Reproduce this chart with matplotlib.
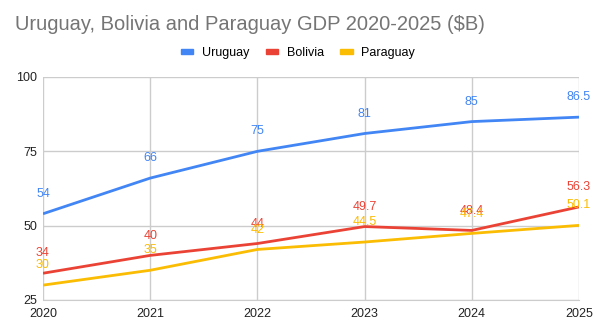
import matplotlib.pyplot as plt

years = [2020, 2021, 2022, 2023, 2024, 2025]
uruguay = [54, 66, 75, 81, 85, 86.5]
bolivia = [34, 40, 44, 49.7, 48.4, 56.3]
paraguay = [30, 35, 42, 44.5, 47.4, 50.1]

series = [
    ('Uruguay', uruguay, '#4285F4'),
    ('Bolivia', bolivia, '#EA4335'),
    ('Paraguay', paraguay, '#FBBC04'),
]

plt.rcParams['font.family'] = ['Liberation Sans', 'DejaVu Sans']

fig = plt.figure(figsize=(5.96, 3.31), dpi=100)
ax = fig.add_axes([43 / 596, 31 / 331, 536 / 596, 223 / 331])

for name, vals, color in series:
    ax.plot(years, vals, color=color, lw=2, label=name, solid_capstyle='butt')
    for x, y in zip(years, vals):
        ax.annotate(f'{y:g}', (x, y), xytext=(0, 10), textcoords='offset points',
                    ha='center', va='bottom', color=color, fontsize=9)

ax.set_xlim(2020, 2025)
ax.set_ylim(25, 100)
ax.set_xticks(years)
ax.set_yticks([25, 50, 75, 100])
ax.grid(True, color='#cccccc', lw=1)
ax.set_axisbelow(True)
for side in ['top', 'right', 'left']:
    ax.spines[side].set_visible(False)
ax.spines['bottom'].set_color('#cccccc')
ax.tick_params(length=0, labelsize=9, colors='#222222', pad=4)
ax.tick_params(axis='x', pad=6)

fig.text(15 / 596, 1 - 24 / 331, 'Uruguay, Bolivia and Paraguay GDP 2020-2025 ($B)',
         fontsize=14.5, color='#757575', va='center', ha='left')

handles = [plt.Rectangle((0, 0), 1, 1, color=c) for _, _, c in series]
fig.legend(handles, [n for n, _, _ in series], loc='center',
           bbox_to_anchor=(0.5, 1 - 53 / 331), ncol=3, frameon=False,
           fontsize=9, handlelength=1.0, handleheight=0.35, columnspacing=1.3,
           handletextpad=0.7)

fig.savefig('out.png', dpi=100)
